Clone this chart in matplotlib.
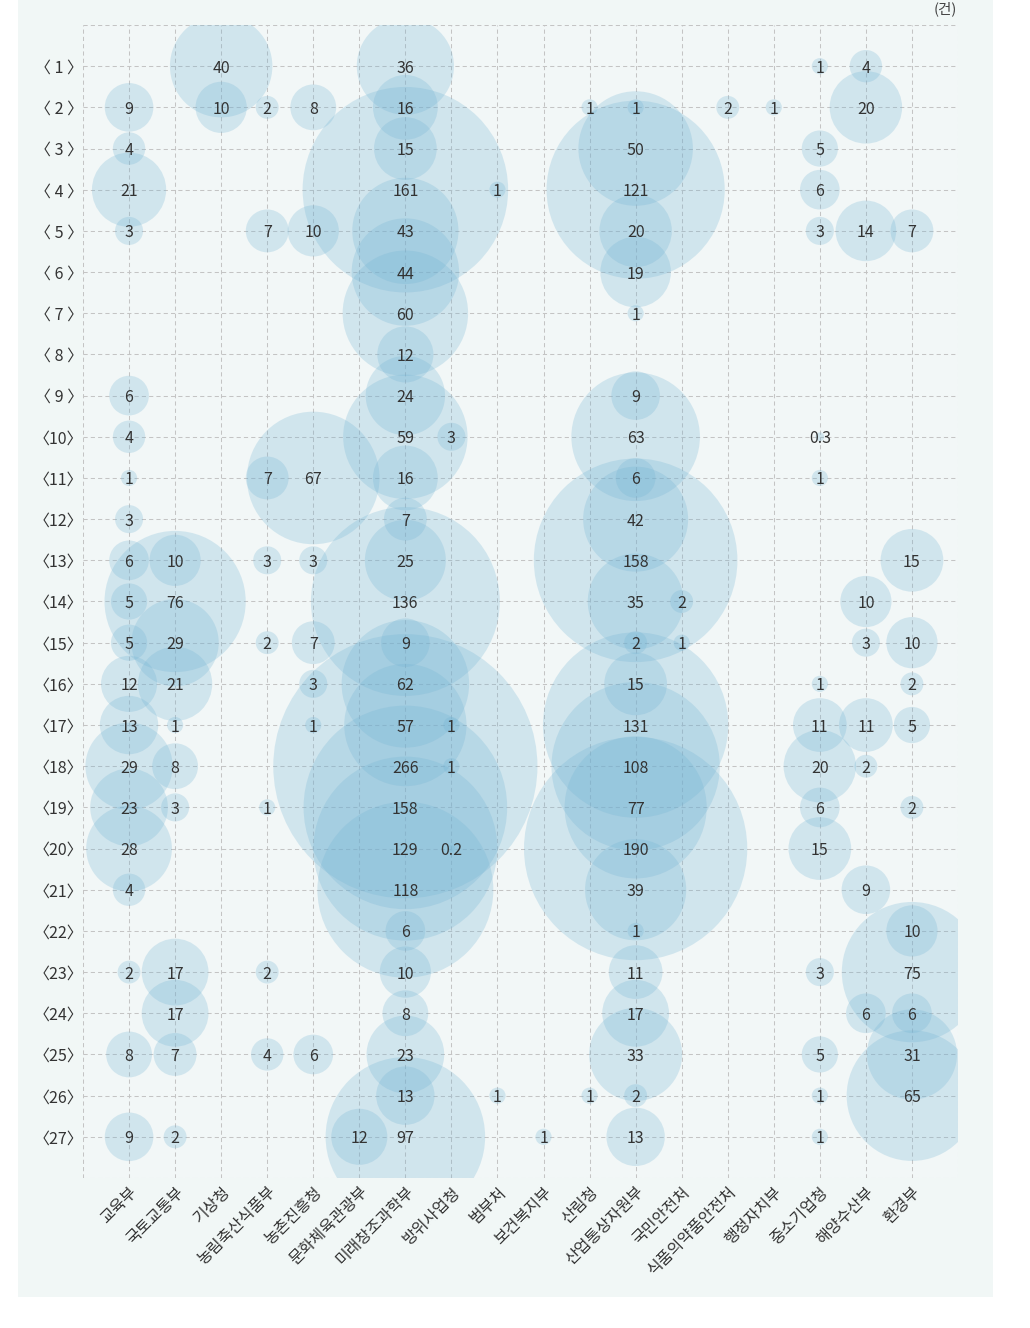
import numpy as np
import matplotlib
matplotlib.use('Agg')
import matplotlib.pyplot as plt
from matplotlib.patches import Rectangle
import matplotlib.transforms as mtransforms

plt.rcParams['font.family'] = ['Noto Sans CJK KR', 'DejaVu Sans']

# ministries (x axis), in order
ministries = ['교육부', '국토교통부', '기상청', '농림축산식품부', '농촌진흥청',
              '문화체육관광부', '미래창조과학부', '방위사업청', '범부처', '보건복지부',
              '산림청', '산업통상자원부', '국민안전처', '식품의약품안전처', '행정자치부',
              '중소기업청', '해양수산부', '환경부']

# row number -> value (건), one dict per ministry
edu = {2: 9, 3: 4, 4: 21, 5: 3, 9: 6, 10: 4, 11: 1, 12: 3, 13: 6, 14: 5, 15: 5,
       16: 12, 17: 13, 18: 29, 19: 23, 20: 28, 21: 4, 23: 2, 25: 8, 27: 9}
molit = {13: 10, 14: 76, 15: 29, 16: 21, 17: 1, 18: 8, 19: 3, 23: 17, 24: 17,
         25: 7, 27: 2}
kma = {1: 40, 2: 10}
mafra = {2: 2, 5: 7, 11: 7, 13: 3, 15: 2, 19: 1, 23: 2, 25: 4}
rda = {2: 8, 5: 10, 11: 67, 13: 3, 15: 7, 16: 3, 17: 1, 25: 6}
mcst = {27: 12}
msip = {1: 36, 2: 16, 3: 15, 4: 161, 5: 43, 6: 44, 7: 60, 8: 12, 9: 24, 10: 59,
        11: 16, 12: 7, 13: 25, 14: 136, 15: 9, 16: 62, 17: 57, 18: 266, 19: 158,
        20: 129, 21: 118, 22: 6, 23: 10, 24: 8, 25: 23, 26: 13, 27: 97}
dapa = {10: 3, 17: 1, 18: 1, 20: 0.2}
pan = {4: 1, 26: 1}
mohw = {27: 1}
kfs = {2: 1, 26: 1}
motie = {2: 1, 3: 50, 4: 121, 5: 20, 6: 19, 7: 1, 9: 9, 10: 63, 11: 6, 12: 42,
         13: 158, 14: 35, 15: 2, 16: 15, 17: 131, 18: 108, 19: 77, 20: 190,
         21: 39, 22: 1, 23: 11, 24: 17, 25: 33, 26: 2, 27: 13}
mpss = {14: 2, 15: 1}
mfds = {2: 2}
moi = {2: 1}
smba = {1: 1, 3: 5, 4: 6, 5: 3, 10: 0.3, 11: 1, 16: 1, 17: 11, 18: 20, 19: 6,
        20: 15, 23: 3, 25: 5, 26: 1, 27: 1}
mof = {1: 4, 2: 20, 5: 14, 14: 10, 15: 3, 17: 11, 18: 2, 21: 9, 24: 6}
me = {5: 7, 13: 15, 15: 10, 16: 2, 17: 5, 19: 2, 22: 10, 23: 75, 24: 6, 25: 31,
      26: 65}

columns = [edu, molit, kma, mafra, rda, mcst, msip, dapa, pan, mohw, kfs, motie,
           mpss, mfds, moi, smba, mof, me]
rows = list(range(1, 28))
row_labels = ['〈 %d 〉' % r if r < 10 else '〈%d〉' % r for r in rows]

fig = plt.figure(figsize=(10.3, 13.28), dpi=100)
fig.patch.set_facecolor('white')
fig.patches.append(Rectangle((18 / 1030, 1 - 1297 / 1328), 975 / 1030, 1297 / 1328,
                             transform=fig.transFigure, facecolor='#f1f7f6',
                             edgecolor='none', zorder=-10))

ax = fig.add_axes([83 / 1030, 1 - 1178 / 1328, 875 / 1030, 1153 / 1328])
ax.set_facecolor('#f2f7f7')

for i, col in enumerate(columns):
    ys = list(col.keys())
    vals = np.array(list(col.values()), dtype=float)
    ax.scatter([i] * len(ys), ys, s=136 * vals, color='#72b3d3', alpha=0.26,
               edgecolors='none', zorder=2)
    for y, v in col.items():
        ax.text(i, y, '%g' % v, ha='center', va='center_baseline', fontsize=11.5,
                color='#333333', zorder=3)

ax.set_xlim(-1, 18)
ax.set_ylim(28, 0)

# gridlines on every integer, labels only on the real categories
ax.set_xticks(range(-1, 19))
ax.set_xticklabels([''] + ministries + [''], rotation=45, ha='right', va='top',
                   rotation_mode='anchor', fontsize=11.5, color='#333333')
offset = mtransforms.ScaledTranslation(11 / 100, 0, fig.dpi_scale_trans)
for lab in ax.get_xticklabels():
    lab.set_transform(lab.get_transform() + offset)
ax.set_yticks(range(0, 29))
ax.set_yticklabels([''] + row_labels + [''], fontsize=11.5, color='#333333')
ax.tick_params(length=0)
ax.tick_params(axis='x', pad=4)
ax.tick_params(axis='y', pad=0)

ax.grid(True, color='#c4c4c4', linestyle=(0, (4, 3)), linewidth=0.75)
ax.set_axisbelow(True)
for sp in ax.spines.values():
    sp.set_visible(False)

fig.text(945 / 1030, 1 - 9 / 1328, '(건)', ha='center', va='center',
         fontsize=10.5, color='#444444')

fig.savefig('out.png', dpi=100, facecolor=fig.get_facecolor())
